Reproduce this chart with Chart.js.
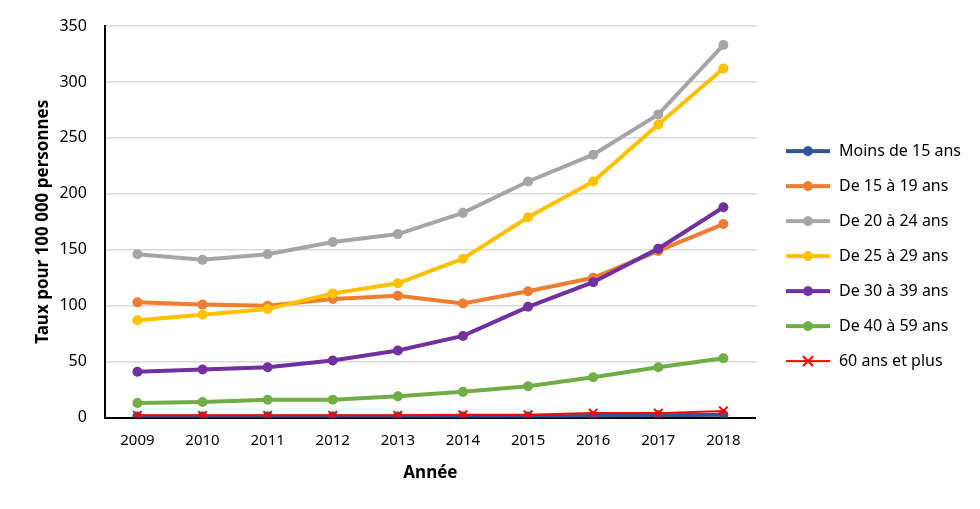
<!DOCTYPE html>
<html>
<head>
<meta charset="utf-8">
<script src="https://cdn.jsdelivr.net/npm/chart.js@4.4.0/dist/chart.umd.min.js"></script>
<style>
  html, body { margin: 0; padding: 0; background: #fff; }
  #wrap { width: 980px; height: 509px; }
</style>
</head>
<body>
<div id="wrap"><canvas id="c"></canvas></div>
<script>
// années et taux (pour 100 000 personnes)
const years = ['2009', '2010', '2011', '2012', '2013', '2014', '2015', '2016', '2017', '2018'];
const labels = ['Moins de 15 ans', 'De 15 à 19 ans', 'De 20 à 24 ans', 'De 25 à 29 ans', 'De 30 à 39 ans', 'De 40 à 59 ans', '60 ans et plus'];
const moins15 = [1, 1, 1, 1, 1, 1, 1, 1.5, 2, 2.5];
const de15a19 = [103, 101, 100, 106, 109, 102, 113, 125, 149, 173];
const de20a24 = [146, 141, 146, 157, 164, 183, 211, 235, 271, 333];
const de25a29 = [87, 92, 97, 111, 120, 142, 179, 211, 262, 312];
const de30a39 = [41, 43, 45, 51, 60, 73, 99, 121, 151, 188];
const de40a59 = [13, 14, 16, 16, 19, 23, 28, 36, 45, 53];
const plus60 = [2, 2, 2, 2, 2, 2.5, 2.5, 4, 4, 6];
const colors = ['#2f5597', '#ed7d31', '#a5a5a5', '#ffc000', '#7030a0', '#70ad47', '#ff0000'];

const FONT = "'Noto Sans', 'Open Sans', sans-serif";

// petit pictogramme de légende : trait + marqueur (marge blanche à gauche)
function legendIcon(color, cross) {
    const cv = document.createElement('canvas');
    cv.width = 56; cv.height = 14;
    const g = cv.getContext('2d');
    g.strokeStyle = color;
    g.lineWidth = cross ? 2 : 4;
    g.beginPath(); g.moveTo(11, 7); g.lineTo(55, 7); g.stroke();
    if (cross) {
        g.lineWidth = 2;
        g.beginPath();
        g.moveTo(28, 2); g.lineTo(38, 12);
        g.moveTo(38, 2); g.lineTo(28, 12);
        g.stroke();
    } else {
        g.fillStyle = color;
        g.beginPath(); g.arc(33, 7, 5, 0, Math.PI * 2); g.fill();
    }
    return cv;
}

const series = [moins15, de15a19, de20a24, de25a29, de30a39, de40a59, plus60];
const datasets = series.map((vals, i) => {
    const cross = i === 6;
    return {
        label: labels[i],
        data: vals,
        borderColor: colors[i],
        backgroundColor: colors[i],
        borderWidth: cross ? 2 : 4,
        pointStyle: cross ? 'crossRot' : 'circle',
        pointRadius: cross ? 6 : 5,
        pointBorderWidth: cross ? 2 : 0,
        pointHoverRadius: 6,
        tension: 0,
        order: -i,
        icon: legendIcon(colors[i], cross)
    };
});

new Chart(document.getElementById('c'), {
    type: 'line',
    data: { labels: years, datasets: datasets },
    options: {
        responsive: true, maintainAspectRatio: false,
        animation: false,
        layout: { padding: { top: 4, left: 33, right: 9, bottom: 26 } },
        plugins: {
            legend: {
                position: 'right',
                // titre vide : décale un peu les entrées vers le bas
                title: { display: true, text: ' ', font: { size: 1 }, padding: 12 },
                labels: {
                    font: { family: FONT, size: 16 },
                    color: '#000',
                    usePointStyle: true,
                    pointStyleWidth: 56,
                    padding: 19,
                    generateLabels: (chart) => chart.data.datasets.map((ds, i) => ({
                        text: ds.label,
                        pointStyle: ds.icon,
                        fillStyle: ds.borderColor,
                        strokeStyle: ds.borderColor,
                        lineWidth: 0,
                        fontColor: '#000',
                        datasetIndex: i,
                        hidden: !chart.isDatasetVisible(i)
                    }))
                }
            },
            tooltip: { enabled: true }
        },
        scales: {
            x: {
                offset: true,
                grid: { display: false, drawTicks: false },
                border: { color: '#000', width: 2 },
                ticks: { color: '#000', font: { family: FONT, size: 15 }, padding: 14 },
                title: { display: true, text: 'Année', color: '#000', font: { family: FONT, size: 17, weight: 'bold' }, padding: { top: -1, bottom: 0 } }
            },
            y: {
                min: 0, max: 350,
                grid: { color: '#d9d9d9', lineWidth: 1.5, drawTicks: false },
                border: { color: '#000', width: 2 },
                ticks: { stepSize: 50, color: '#000', font: { family: FONT, size: 16, lineHeight: 1 }, padding: 18 },
                title: { display: true, text: 'Taux pour 100 000 personnes', color: '#000', font: { family: FONT, size: 17, weight: 'bold' }, padding: { top: 0, bottom: -12 } }
            }
        }
    }
});
</script>
</body>
</html>
